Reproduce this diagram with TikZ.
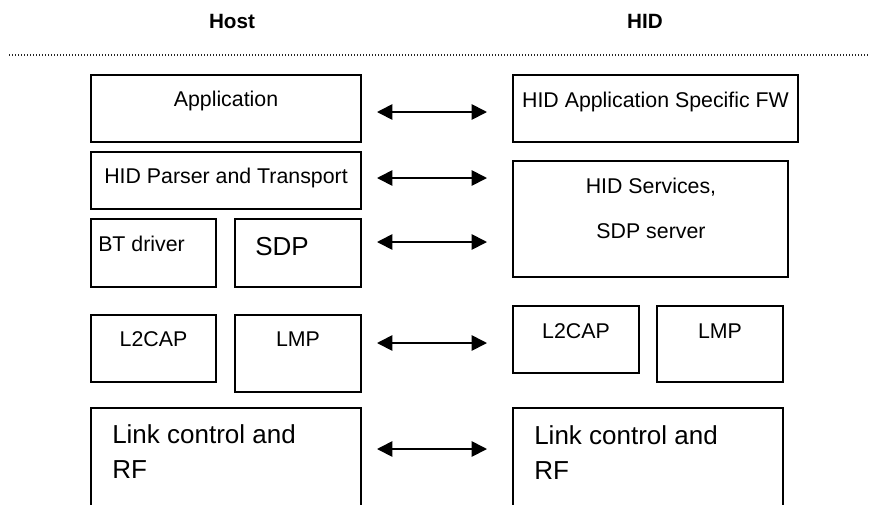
\documentclass[tikz,border=0pt]{standalone}
\usepackage{fontspec}
\setmainfont{Liberation Sans}
\usetikzlibrary{arrows.meta}
\tikzset{
  bx/.style={draw, line width=1pt, inner sep=0pt, outer sep=0pt, rectangle},
  lbl/.style={inner sep=0pt, font=\fontsize{16pt}{19pt}\selectfont, anchor=base},
  lbll/.style={inner sep=0pt, font=\fontsize{19.5pt}{24pt}\selectfont, anchor=base west},
  hdr/.style={inner sep=0pt, font=\bfseries\fontsize{15.5pt}{18pt}\selectfont, anchor=base},
  arr/.style={line width=1.3pt, {Triangle[length=11.5pt,width=11.5pt]}-{Triangle[length=11.5pt,width=11.5pt]}, shorten <=12pt, shorten >=19.5pt},
  dotline/.style={line width=0.8pt, dash pattern=on 0.75pt off 1.5pt, black!85},
}
\newcommand{\bxat}[5]{\node[bx, minimum width={(#4-#2)*0.75pt}, minimum height={(#5-#3)*0.75pt}] (#1) at ({(#2+#4)/2},{(#3+#5)/2}) {};}
\begin{document}
\begin{tikzpicture}[x=0.75pt, y=-0.75pt]
\useasboundingbox (0,0) rectangle (870,504);
\begin{scope}
\clip (0,0) rectangle (870,504);
\fill[white] (0,0) rectangle (870,504);
% headers
\node[hdr] (host) at (232,28) {Host};
\node[hdr] (hid) at (645,28) {HID};
\coordinate (dl) at (9,55);
\coordinate (dr) at (870,55);
\draw[dotline] (dl) -- (dr);
% host boxes
\bxat{app}{91}{75}{361}{142}
\bxat{par}{91}{152}{361}{209}
\bxat{btd}{91}{219}{216}{287}
\bxat{sdp}{235}{219}{361}{287}
\bxat{l2h}{91}{315}{216}{382}
\bxat{lmph}{235}{315}{361}{392}
\bxat{lkh}{91}{408}{361}{512}
% device boxes
\bxat{fw}{513}{75}{798}{142}
\bxat{srv}{513}{161}{788}{277}
\bxat{l2d}{513}{306}{639}{373}
\bxat{lmpd}{657}{306}{783}{382}
\bxat{lkd}{513}{408}{783}{512}
% texts
\node[lbl] (tapp) at (226,106) {Application};
\node[lbl] (tpar) at (226,183) {HID Parser and Transport};
\node[lbl, anchor=base west] (tbt) at (98,251) {BT driver};
\node[lbll, anchor=base] (tsdp) at (282,255) {SDP};
\node[lbl] (tl2h) at (153.5,346) {L2CAP};
\node[lbl] (tlmph) at (298,346) {LMP};
\node[lbll] (tlkh1) at (112,443) {Link control and};
\node[lbll] (tlkh2) at (112,478) {RF};
\node[lbl] (tfw) at (655.5,107) {HID Application Specific FW};
\node[lbl] (tsrv1) at (651,193) {HID Services,};
\node[lbl] (tsrv2) at (651,238) {SDP server};
\node[lbl] (tl2d) at (576,338) {L2CAP};
\node[lbl] (tlmpd) at (720,338) {LMP};
\node[lbll] (tlkd1) at (534,444) {Link control and};
\node[lbll] (tlkd2) at (534,479) {RF};
% arrow rows
\coordinate (r1) at (0,112);
\coordinate (r2) at (0,178);
\coordinate (r3) at (0,242);
\coordinate (r4) at (0,343);
\coordinate (r5) at (0,449);
\draw[arr] (app.east |- r1) -- (fw.west |- r1);
\draw[arr] (par.east |- r2) -- (srv.west |- r2);
\draw[arr] (sdp.east |- r3) -- (srv.west |- r3);
\draw[arr] (lmph.east |- r4) -- (l2d.west |- r4);
\draw[arr] (lkh.east |- r5) -- (lkd.west |- r5);
\end{scope}
\end{tikzpicture}
\end{document}
